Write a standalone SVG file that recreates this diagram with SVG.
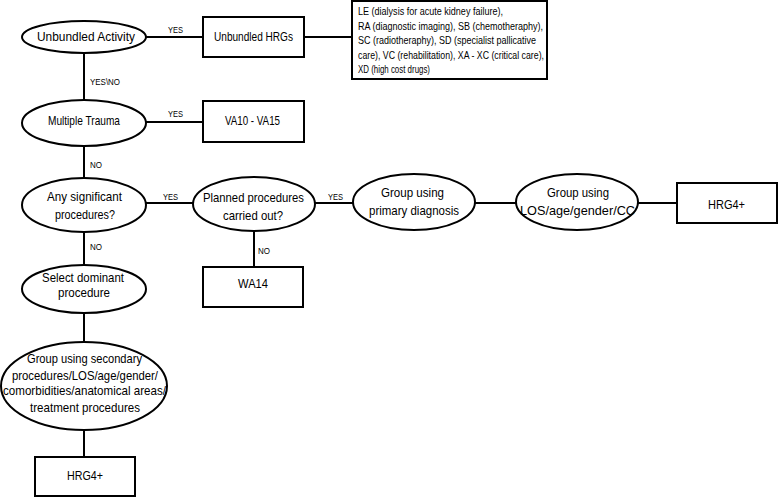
<svg xmlns="http://www.w3.org/2000/svg" width="778" height="497" viewBox="0 0 778 497">
<style>
text{font-family:"Liberation Sans",Arial,sans-serif;fill:#000}
.n ellipse,.n rect{fill:#fff;stroke:#000;stroke-width:2}
.t{font-size:13.5px}
.s{font-size:10.5px}
.l{font-size:9.5px}
#connectors line{stroke:#000;stroke-width:2}
</style>
<rect width="778" height="497" fill="#fff"/>
<g id="connectors">
<line x1="146" y1="37" x2="203" y2="37"/>
<line x1="304" y1="37" x2="352" y2="37"/>
<line x1="84" y1="53" x2="84" y2="100"/>
<line x1="146" y1="122" x2="203" y2="122"/>
<line x1="84" y1="146" x2="84" y2="178"/>
<line x1="146" y1="203" x2="193" y2="203"/>
<line x1="315" y1="203" x2="353" y2="203"/>
<line x1="475" y1="203" x2="516" y2="203"/>
<line x1="638" y1="203" x2="677" y2="203"/>
<line x1="254" y1="231" x2="254" y2="267"/>
<line x1="84" y1="232" x2="84" y2="265"/>
<line x1="84" y1="313" x2="84" y2="342"/>
<line x1="84" y1="430" x2="84" y2="457"/>
<text class="l" x="168" y="33" textLength="15" lengthAdjust="spacingAndGlyphs">YES</text>
<text class="l" x="90" y="85" textLength="30" lengthAdjust="spacingAndGlyphs">YES\NO</text>
<text class="l" x="168" y="117" textLength="15" lengthAdjust="spacingAndGlyphs">YES</text>
<text class="l" x="90" y="168" textLength="12" lengthAdjust="spacingAndGlyphs">NO</text>
<text class="l" x="163" y="200" textLength="15" lengthAdjust="spacingAndGlyphs">YES</text>
<text class="l" x="328" y="200" textLength="15" lengthAdjust="spacingAndGlyphs">YES</text>
<text class="l" x="90" y="250" textLength="12" lengthAdjust="spacingAndGlyphs">NO</text>
<text class="l" x="258" y="254" textLength="12" lengthAdjust="spacingAndGlyphs">NO</text>
</g>
<g id="unbundled-activity" class="n"><ellipse cx="84" cy="37" rx="62" ry="16"/><text class="t" x="37" y="41" textLength="98" lengthAdjust="spacingAndGlyphs">Unbundled Activity</text></g>
<g id="unbundled-hrgs" class="n"><rect x="203" y="17" width="101" height="40"/><text class="t" x="214" y="41" textLength="79" lengthAdjust="spacingAndGlyphs">Unbundled HRGs</text></g>
<g id="unbundled-list" class="n"><rect x="352" y="1" width="195" height="78"/>
<text class="s" x="358" y="15" textLength="145" lengthAdjust="spacingAndGlyphs">LE (dialysis for acute kidney failure),</text>
<text class="s" x="358" y="29.5" textLength="185" lengthAdjust="spacingAndGlyphs">RA (diagnostic imaging), SB (chemotheraphy),</text>
<text class="s" x="358" y="44" textLength="178" lengthAdjust="spacingAndGlyphs">SC (radiotheraphy), SD (specialist pallicative</text>
<text class="s" x="358" y="58.5" textLength="186" lengthAdjust="spacingAndGlyphs">care), VC (rehabilitation), XA - XC (critical care),</text>
<text class="s" x="358" y="73" textLength="72" lengthAdjust="spacingAndGlyphs">XD (high cost drugs)</text></g>
<g id="multiple-trauma" class="n"><ellipse cx="84" cy="123" rx="62" ry="23"/><text class="t" x="48" y="125" textLength="72" lengthAdjust="spacingAndGlyphs">Multiple Trauma</text></g>
<g id="va10-va15" class="n"><rect x="203" y="101" width="101" height="41"/><text class="t" x="225" y="125" textLength="55" lengthAdjust="spacingAndGlyphs">VA10 - VA15</text></g>
<g id="any-significant" class="n"><ellipse cx="84" cy="205" rx="62" ry="27"/><text class="t" x="47" y="201" textLength="75" lengthAdjust="spacingAndGlyphs">Any significant</text><text class="t" x="55" y="219" textLength="60" lengthAdjust="spacingAndGlyphs">procedures?</text></g>
<g id="planned-procedures" class="n"><ellipse cx="254" cy="204" rx="61" ry="27"/><text class="t" x="203" y="202" textLength="101" lengthAdjust="spacingAndGlyphs">Planned procedures</text><text class="t" x="223" y="220" textLength="60" lengthAdjust="spacingAndGlyphs">carried out?</text></g>
<g id="wa14" class="n"><rect x="203" y="267" width="100" height="40"/><text class="t" x="238" y="288" textLength="30" lengthAdjust="spacingAndGlyphs">WA14</text></g>
<g id="group-primary" class="n"><ellipse cx="414" cy="202" rx="61" ry="28"/><text class="t" x="381" y="197" textLength="63" lengthAdjust="spacingAndGlyphs">Group using</text><text class="t" x="369" y="215" textLength="90" lengthAdjust="spacingAndGlyphs">primary diagnosis</text></g>
<g id="group-los" class="n"><ellipse cx="577" cy="202" rx="61" ry="28"/><text class="t" x="547" y="197" textLength="62" lengthAdjust="spacingAndGlyphs">Group using</text><text class="t" x="520" y="215" textLength="115" lengthAdjust="spacingAndGlyphs">LOS/age/gender/CC</text></g>
<g id="hrg4-right" class="n"><rect x="677" y="183" width="100" height="40"/><text class="t" x="708" y="209" textLength="37" lengthAdjust="spacingAndGlyphs">HRG4+</text></g>
<g id="select-dominant" class="n"><ellipse cx="84" cy="289" rx="62" ry="24"/><text class="t" x="42" y="282" textLength="82" lengthAdjust="spacingAndGlyphs">Select dominant</text><text class="t" x="58" y="297" textLength="52" lengthAdjust="spacingAndGlyphs">procedure</text></g>
<g id="group-secondary" class="n"><ellipse cx="84" cy="386" rx="83" ry="44"/><text class="t" x="27" y="363" textLength="115" lengthAdjust="spacingAndGlyphs">Group using secondary</text><text class="t" x="12" y="380" textLength="146" lengthAdjust="spacingAndGlyphs">procedures/LOS/age/gender/</text><text class="t" x="3" y="395" textLength="163" lengthAdjust="spacingAndGlyphs">comorbidities/anatomical areas/</text><text class="t" x="30" y="412" textLength="110" lengthAdjust="spacingAndGlyphs">treatment procedures</text></g>
<g id="hrg4-bottom" class="n"><rect x="35" y="457" width="100" height="39"/><text class="t" x="67" y="480" textLength="36" lengthAdjust="spacingAndGlyphs">HRG4+</text></g>
</svg>
